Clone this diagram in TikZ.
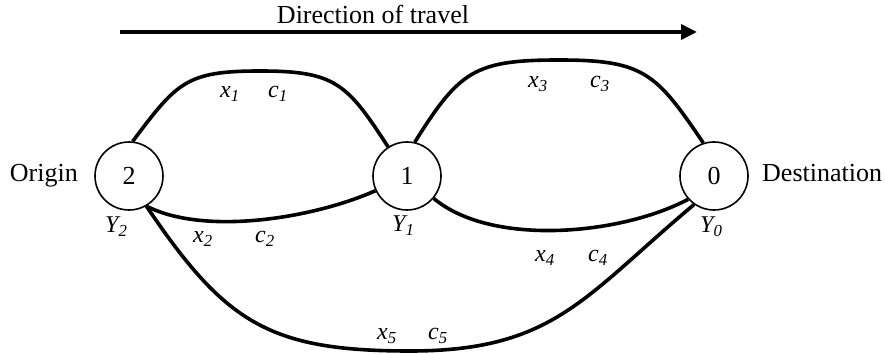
\documentclass[tikz,border=0pt]{standalone}
\usepackage{fontspec}
\setmainfont{Liberation Serif}
\usetikzlibrary{arrows.meta}
\newcommand{\vsub}[2]{\textit{#1\textsubscript{#2}}}

\begin{document}
\begin{tikzpicture}[x=1pt,y=1pt,
  station/.style={circle,draw,line width=1.6pt,fill=white,minimum size=68pt,
    inner sep=0pt,font=\fontsize{26}{30}\selectfont},
  link/.style={line width=3.6pt},
  word/.style={inner sep=0pt,font=\fontsize{26}{30}\selectfont},
  varlbl/.style={inner sep=0pt,anchor=base west,font=\fontsize{24}{28}\selectfont}]
  \useasboundingbox (0,0) rectangle (885,353);
  % travel arrow
  \coordinate (arrS) at (120,321);
  \coordinate (arrE) at (697,321);
  \draw[line width=3.6pt,-{Triangle[length=16pt,width=15pt]}] (arrS) -- (arrE);
  \node[word,anchor=base] (dir) at (373,329) {Direction of travel};
  % stations
  \node[station] (n2) at (129,177) {2};
  \node[station] (n1) at (407,177) {1};
  \node[station] (n0) at (714,177) {0};
  \node[word,anchor=base east] (orig) at (78,171) {Origin};
  \node[word,anchor=base west] (dest) at (762,171) {Destination};
  \node[varlbl] (y2) at (105,120) {\vsub{Y}{2}};
  \node[varlbl] (y1) at (392,121) {\vsub{Y}{1}};
  \node[varlbl] (y0) at (700,120) {\vsub{Y}{0}};
  % routes
  \coordinate (top1) at (260,282);
  \coordinate (top3) at (559,293);
  \coordinate (bot5) at (410,2);
  \draw[link] (n2.84) to[out=53,in=180,looseness=1.3] (top1)
    to[out=0,in=123,looseness=1.3] (n1.123);
  \draw[link] (n2.-60) to[out=-27,in=204,looseness=0.74] (n1.205);
  \draw[link] (n1.77) to[out=58,in=180,looseness=1.3] (top3)
    to[out=0,in=124,looseness=1.3] (n0.108);
  \draw[link] (n1.-40) to[out=-40,in=208,looseness=0.76] (n0.222);
  \draw[link] (n2.-60) to[out=-56,in=180,looseness=1.2] (bot5)
    to[out=0,in=220,looseness=1.15] (n0.235);
  % flow and cost labels
  \node[varlbl] (x1) at (220,255) {\vsub{x}{1}};
  \node[varlbl] (c1) at (268,255) {\vsub{c}{1}};
  \node[varlbl] (x2) at (193,110) {\vsub{x}{2}};
  \node[varlbl] (c2) at (255,110) {\vsub{c}{2}};
  \node[varlbl] (x3) at (528,265) {\vsub{x}{3}};
  \node[varlbl] (c3) at (590,265) {\vsub{c}{3}};
  \node[varlbl] (x4) at (535,91) {\vsub{x}{4}};
  \node[varlbl] (c4) at (588,91) {\vsub{c}{4}};
  \node[varlbl] (x5) at (377,13) {\vsub{x}{5}};
  \node[varlbl] (c5) at (428,13) {\vsub{c}{5}};
\end{tikzpicture}
\end{document}
